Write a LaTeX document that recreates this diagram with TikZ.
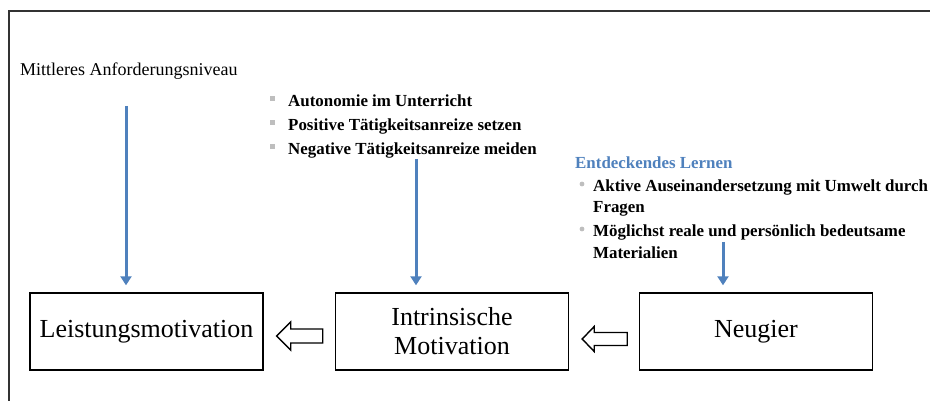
\documentclass[tikz,border=0pt]{standalone}
\usepackage{fontspec}
\setmainfont{Liberation Serif}
\usetikzlibrary{arrows.meta,calc}
\definecolor{accent}{RGB}{79,129,189}
\definecolor{bulletgray}{RGB}{190,190,190}
\tikzset{
  stage/.style={draw=black,line width=1.4pt,minimum width=233pt,minimum height=77pt,
    inner sep=0pt,align=center,font=\fontsize{26}{31}\selectfont},
  itemtext/.style={anchor=base west,inner sep=0pt,font=\fontsize{16.9}{20}\selectfont\bfseries},
  plaintext/.style={anchor=base west,inner sep=0pt,font=\fontsize{18}{21}\selectfont},
  influence/.style={draw=accent,line width=3pt,-{Triangle[width=11pt,length=9pt]},shorten >=7pt},
  hollow/.style={draw=black,line width=1.4pt,fill=white,line join=miter},
  framebar/.style={draw=black!80,line width=2pt},
}
\begin{document}
\begin{tikzpicture}[x=1pt,y=-1pt]
\useasboundingbox (0,0) rectangle (930,401);

% outer frame
\draw[framebar] (9,401) -- (9,11) -- (931,11);

% the three stages
\node[stage] (leist) at (146.5,331.5) {Leistungsmotivation};
\node[stage] (intr)  at (452,331.5) {Intrinsische\\[-2pt]Motivation};
\node[stage] (neug)  at (756,331.5) {Neugier};

% factor: demand level
\node[plaintext] (niveau) at (20,76) {Mittleres Anforderungsniveau};

% factor list: autonomy and incentives
\foreach \y/\txt [count=\i] in {106.5/Autonomie im Unterricht,
    130.5/Positive Tätigkeitsanreize setzen,
    154.5/Negative Tätigkeitsanreize meiden}{
  \fill[bulletgray] (269.5,\y-10) rectangle ++(5,5);
  \node[itemtext] (auto\i) at (288,\y) {\txt};
}

% factor list: discovery learning
\node[itemtext,text=accent] (entd) at (575,169) {Entdeckendes Lernen};
\fill[bulletgray] (582,184) circle (2.4);
\node[itemtext] (akt1) at (593,191.5) {Aktive Auseinandersetzung mit Umwelt durch};
\node[itemtext] (akt2) at (593,213) {Fragen};
\fill[bulletgray] (582,229) circle (2.4);
\node[itemtext] (mat1) at (593,236.5) {Möglichst reale und persönlich bedeutsame};
\node[itemtext] (mat2) at (593,258.5) {Materialien};

% influence arrows
\coordinate (s1) at (126,106);
\coordinate (s2) at (416,159);
\coordinate (s3) at (723,242);
\draw[influence] (s1) -- (s1 |- leist.north);
\draw[influence] (s2) -- (s2 |- intr.north);
\draw[influence] (s3) -- (s3 |- neug.north);

% hollow block arrows between the stages
\draw[hollow] ($(leist.east)+(13,4.5)$) -- ++(14,-14) -- ++(0,7) -- ++(32,0)
  -- ++(0,14) -- ++(-32,0) -- ++(0,7) -- cycle;
\draw[hollow] ($(intr.east)+(13,7.5)$) -- ++(12,-12.5) -- ++(0,6) -- ++(33,0)
  -- ++(0,13) -- ++(-33,0) -- ++(0,6) -- cycle;
\end{tikzpicture}
\end{document}
